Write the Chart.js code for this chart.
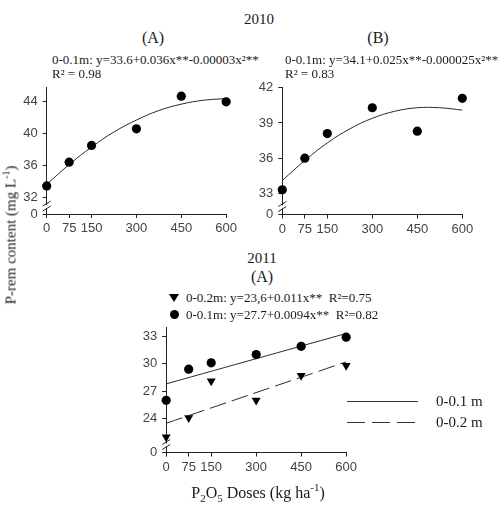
<!DOCTYPE html>
<html>
<head>
<meta charset="utf-8">
<script src="https://cdn.jsdelivr.net/npm/chart.js@4"></script>
<style>
  body { margin: 0; background: #fff; }
  #fig { position: relative; width: 499px; height: 505px; overflow: hidden; background: #fff; }
  #fig canvas { position: absolute; }
  .t { position: absolute; white-space: nowrap; font-family: 'Liberation Serif', serif; color: #1a1a1a; line-height: 1; }
  .c { transform: translate(-50%, -50%); }
  .l { transform: translate(0, -50%); }
  .eq { font-size: 13px; }
  .tri { position: absolute; width: 0; height: 0; border-left: 5px solid transparent; border-right: 5px solid transparent; border-top: 8px solid #000; }
  .dot { position: absolute; width: 9px; height: 9px; border-radius: 50%; background: #000; }
  .solid { position: absolute; height: 1px; background: #333; }
  .dash { position: absolute; height: 1px; background: repeating-linear-gradient(to right, #333 0 18px, transparent 18px 25px); }
</style>
</head>
<body>
<div id="fig">
  <canvas id="chartA" width="240" height="170" style="left:0px;top:75px"></canvas>
  <canvas id="chartB" width="259" height="170" style="left:240px;top:75px"></canvas>
  <canvas id="chart2011" width="250" height="170" style="left:110px;top:315px"></canvas>

  <div class="t c" style="left:259px;top:19px;font-size:15px">2010</div>
  <div class="t c" style="left:153px;top:38px;font-size:16px">(A)</div>
  <div class="t c" style="left:378px;top:38px;font-size:16px">(B)</div>
  <div class="t l eq" style="left:52px;top:59px">0-0.1m: y=33.6+0.036x**-0.00003x²**</div>
  <div class="t l eq" style="left:52px;top:73px">R² = 0.98</div>
  <div class="t l eq" style="left:285px;top:59px">0-0.1m: y=34.1+0.025x**-0.000025x²**</div>
  <div class="t l eq" style="left:285px;top:73px">R² = 0.83</div>

  <div class="t c" style="left:262px;top:258px;font-size:15px">2011</div>
  <div class="t c" style="left:262px;top:277px;font-size:16px">(A)</div>
  <div class="tri" style="left:169px;top:294px"></div>
  <div class="t l eq" style="left:186px;top:297px">0-0.2m: y=23,6+0.011x**&nbsp; R²=0.75</div>
  <div class="dot" style="left:170px;top:310px"></div>
  <div class="t l eq" style="left:186px;top:314px">0-0.1m: y=27.7+0.0094x**&nbsp; R²=0.82</div>

  <div class="solid" style="left:347px;top:401px;width:71px"></div>
  <div class="t l" style="left:436px;top:401px;font-size:15px">0-0.1 m</div>
  <div class="dash" style="left:347px;top:422px;width:68px"></div>
  <div class="t l" style="left:436px;top:422px;font-size:15px">0-0.2 m</div>

  <div class="t c" style="left:10px;top:235px;font-size:15px;transform:translate(-50%,-50%) rotate(-90deg)">P-rem content (mg L<sup style="font-size:10px">-1</sup>)</div>
  <div class="t c" style="left:258px;top:493px;font-size:16px">P<sub style="font-size:11px">2</sub>O<sub style="font-size:11px">5</sub> Doses (kg ha<sup style="font-size:11px">-1</sup>)</div>
</div>

<script>
// doses of P2O5 (kg/ha)
const doses = [0, 75, 150, 300, 450, 600];
const xTicks = [0, 75, 150, 300, 450, 600];
const curveDoses = [0, 75, 150, 225, 300, 375, 450, 525, 600];
const lineDoses = [0, 600];

// 2010 (A) 0-0.1 m
const p2010A = [33.4, 36.4, 38.5, 40.6, 44.7, 44.0];
const fit2010A = [33.6, 36.1, 38.3, 40.2, 41.7, 42.9, 43.7, 44.2, 44.4];
const yTicksA = [32, 36, 40, 44];

// 2010 (B) 0-0.1 m
const p2010B = [33.3, 36.0, 38.1, 40.3, 38.3, 41.1];
const fit2010B = [34.1, 35.8, 37.3, 38.5, 39.4, 40.0, 40.3, 40.3, 40.1];
const yTicksB = [33, 36, 39, 42];

// 2011 (A)
const p2011Top = [26.0, 29.4, 30.1, 31.0, 31.9, 32.9];   // 0-0.1 m
const p2011Sub = [22.0, 24.1, 28.1, 26.0, 28.7, 29.8];   // 0-0.2 m
const fit2011Top = [27.8, 33.3];
const fit2011Sub = [23.5, 30.2];
const yTicks2011 = [24, 27, 30, 33];

const pts = (xs, ys) => xs.map((x, i) => ({x: x, y: ys[i]}));

// little "//" mark where the y axis is broken
const axisBreak = {
    id: 'axisBreak',
    afterDraw(chart) {
        const c = chart.ctx;
        const x = chart.chartArea.left;
        const y = chart.chartArea.bottom - 7;
        c.save();
        c.fillStyle = '#fff';
        c.fillRect(x - 1.5, y - 2, 3, 3);
        c.strokeStyle = '#222';
        c.lineWidth = 1;
        c.beginPath();
        c.moveTo(x - 4, y - 1); c.lineTo(x + 4, y - 6);
        c.moveTo(x - 4, y + 4); c.lineTo(x + 4, y - 1);
        c.stroke();
        c.restore();
    }
};

function makePanel(id, datasets, yMin, yMax, yTicks, box) {
    const tickFont = {family: 'Liberation Sans', size: 13};
    return new Chart(document.getElementById(id), {
        type: 'scatter',
        data: {datasets: datasets},
        options: {
            responsive: false,
            animation: false,
            layout: {padding: {top: box.top, right: box.right, left: 0, bottom: 0}},
            plugins: {legend: {display: false}, tooltip: {enabled: false}},
            scales: {
                x: {
                    type: 'linear', min: 0, max: 600,
                    afterBuildTicks: s => { s.ticks = xTicks.map(v => ({value: v})); },
                    afterFit: s => { s.height = box.xh; },
                    ticks: {autoSkip: false, font: tickFont, color: '#444', padding: 3, maxRotation: 0},
                    grid: {drawOnChartArea: false, tickLength: 4, color: '#222'},
                    border: {color: '#222'}
                },
                y: {
                    min: yMin, max: yMax,
                    afterBuildTicks: s => { s.ticks = [yMin].concat(yTicks).map(v => ({value: v})); },
                    afterFit: s => { s.width = box.yw; },
                    ticks: {
                        font: tickFont, color: '#444', padding: 5,
                        callback: v => (v === yMin ? '0' : v)
                    },
                    grid: {drawOnChartArea: false, tickLength: 4, color: '#222'},
                    border: {color: '#222'}
                }
            }
        },
        plugins: [axisBreak]
    });
}

const dotStyle = {showLine: false, pointRadius: 4.6, pointBackgroundColor: '#000', pointBorderWidth: 0, clip: false};
const curveStyle = {showLine: true, pointRadius: 0, borderColor: '#2a2a2a', borderWidth: 1, tension: 0.4, clip: false};

makePanel('chartA', [
    Object.assign({data: pts(doses, p2010A), order: 0}, dotStyle),
    Object.assign({data: pts(curveDoses, fit2010A), order: 1}, curveStyle)
], 29.87, 45.76, yTicksA, {top: 10, right: 12.7, yw: 46.7, xh: 31});

makePanel('chartB', [
    Object.assign({data: pts(doses, p2010B), order: 0}, dotStyle),
    Object.assign({data: pts(curveDoses, fit2010B), order: 1}, curveStyle)
], 31.2, 42, yTicksB, {top: 9.7, right: 36.7, yw: 42.3, xh: 30.5});

makePanel('chart2011', [
    Object.assign({data: pts(doses, p2011Top), order: 0}, dotStyle),
    Object.assign({data: pts(doses, p2011Sub), order: 0}, dotStyle,
        {pointStyle: 'triangle', rotation: 180, pointRadius: 5.2}),
    Object.assign({data: pts(lineDoses, fit2011Top), order: 1}, curveStyle),
    Object.assign({data: pts(lineDoses, fit2011Sub), order: 1}, curveStyle, {borderDash: [17, 6]})
], 20.31, 33.92, yTicks2011, {top: 9, right: 13.3, yw: 56.2, xh: 32.5});
</script>
</body>
</html>
